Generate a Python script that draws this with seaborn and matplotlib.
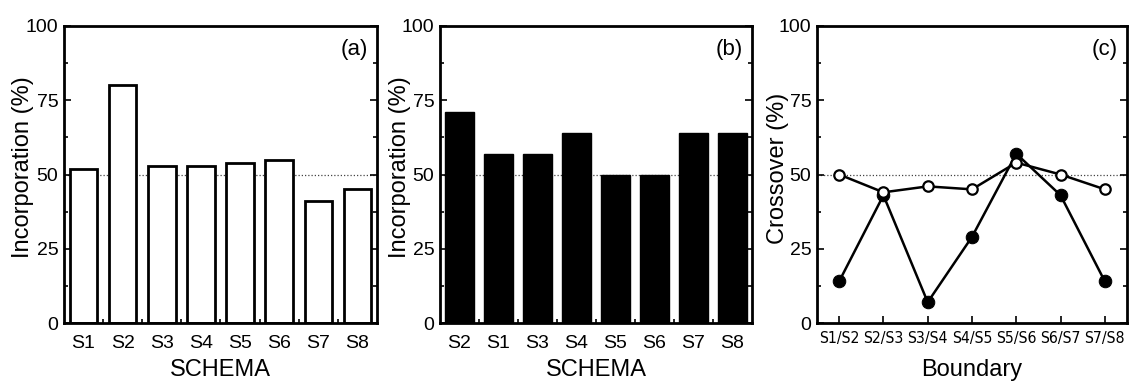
import matplotlib
matplotlib.use("Agg")
import matplotlib.pyplot as plt
import seaborn as sns
import pandas as pd
import numpy as np
from matplotlib.ticker import MultipleLocator, FixedLocator

sns.set_theme(style="white")
plt.rcParams['font.family'] = ['Liberation Sans', 'DejaVu Sans']
plt.rcParams['text.color'] = 'black'
plt.rcParams['axes.labelcolor'] = 'black'
plt.rcParams['xtick.color'] = 'black'
plt.rcParams['ytick.color'] = 'black'

# Data
schema_a = ["S1", "S2", "S3", "S4", "S5", "S6", "S7", "S8"]
incorp_a = [52, 80, 53, 53, 54, 55, 41, 45]
schema_b = ["S2", "S1", "S3", "S4", "S5", "S6", "S7", "S8"]
incorp_b = [71, 57, 57, 64, 50, 50, 64, 64]
boundaries = ["S1/S2", "S2/S3", "S3/S4", "S4/S5", "S5/S6", "S6/S7", "S7/S8"]
cross_open = [50, 44, 46, 45, 54, 50, 45]
cross_filled = [14, 43, 7, 29, 57, 43, 14]
yticks = [0, 25, 50, 75, 100]

fig = plt.figure(figsize=(11.3, 3.81), dpi=100)
W, H = 1130, 381
def axrect(l, r, t=26, b=323):
    return [l / W, 1 - b / H, (r - l) / W, (b - t) / H]

ax_a = fig.add_axes(axrect(64, 377))
ax_b = fig.add_axes(axrect(440, 752))
ax_c = fig.add_axes(axrect(817, 1127))

def style_axis(ax, ylabel, xlabel, n, boundary_ticks, ylab_x, ylab_y):
    ax.set_ylim(0, 100)
    ax.set_xlim(-0.5, n - 0.5)
    ax.yaxis.set_major_locator(FixedLocator(yticks))
    ax.yaxis.set_minor_locator(MultipleLocator(12.5))
    ax.tick_params(axis='y', which='both', direction='in', left=True, right=True,
                   labelsize=14, colors='black', width=1.2)
    ax.tick_params(axis='y', which='major', length=5, pad=4)
    ax.tick_params(axis='y', which='minor', length=3)
    if boundary_ticks:
        ax.xaxis.set_minor_locator(FixedLocator(np.arange(0.5, n - 0.5, 1.0)))
        ax.tick_params(axis='x', which='minor', direction='in', bottom=True, length=3,
                       width=1.2, colors='black')
        ax.tick_params(axis='x', which='major', bottom=False, labelsize=14, pad=3,
                       colors='black')
    else:
        ax.tick_params(axis='x', which='major', direction='in', bottom=True, length=5,
                       width=1.2, pad=6, colors='black')
        for lab in ax.get_xticklabels():
            lab.set_fontfamily('DejaVu Sans')
            lab.set_fontstretch('condensed')
            lab.set_fontsize(11.3)
    for s in ax.spines.values():
        s.set_visible(True)
        s.set_color('black')
        s.set_linewidth(2)
    ax.set_ylabel(ylabel, fontsize=17, color='black', va='center')
    ax.set_xlabel(xlabel, fontsize=17, color='black', va='center')
    ax.yaxis.set_label_coords(ylab_x, ylab_y)
    ax.xaxis.set_label_coords(0.5, -0.158)
    ax.axhline(50, color='#444444', linestyle=(0, (1, 1.6)), linewidth=0.9, zorder=0)

# Panel (a)
df_a = pd.DataFrame({"SCHEMA": schema_a, "Incorporation": incorp_a})
sns.barplot(data=df_a, x="SCHEMA", y="Incorporation", ax=ax_a, color="white",
            edgecolor="black", linewidth=2, width=0.7, zorder=2, saturation=1)
style_axis(ax_a, "Incorporation (%)", "SCHEMA", 8, True, -0.131, 0.525)
ax_a.text(0.97, 0.92, "(a)", transform=ax_a.transAxes, ha='right', va='center',
          fontsize=16, color='black')

# Panel (b)
df_b = pd.DataFrame({"SCHEMA": schema_b, "Incorporation": incorp_b})
sns.barplot(data=df_b, x="SCHEMA", y="Incorporation", ax=ax_b, color="black",
            edgecolor="black", linewidth=1, width=0.74, zorder=2, saturation=1)
style_axis(ax_b, "Incorporation (%)", "SCHEMA", 8, True, -0.128, 0.525)
ax_b.text(0.97, 0.92, "(b)", transform=ax_b.transAxes, ha='right', va='center',
          fontsize=16, color='black')

# Panel (c)
df_c = pd.DataFrame({"idx": np.arange(len(boundaries)), "Boundary": boundaries,
                     "open": cross_open, "filled": cross_filled})
sns.lineplot(data=df_c, x="idx", y="filled", ax=ax_c, color="black", linewidth=1.8,
             marker="o", markersize=9, markerfacecolor="black", markeredgecolor="black", zorder=3)
sns.lineplot(data=df_c, x="idx", y="open", ax=ax_c, color="black", linewidth=1.8,
             marker="o", markersize=7.5, markerfacecolor="white", markeredgecolor="black",
             markeredgewidth=1.6, zorder=4)
ax_c.set_xticks(df_c["idx"])
ax_c.set_xticklabels(boundaries)
style_axis(ax_c, "Crossover (%)", "Boundary", 7, False, -0.126, 0.52)
ax_c.text(0.97, 0.92, "(c)", transform=ax_c.transAxes, ha='right', va='center',
          fontsize=16, color='black')

fig.savefig("out.png", dpi=100)
